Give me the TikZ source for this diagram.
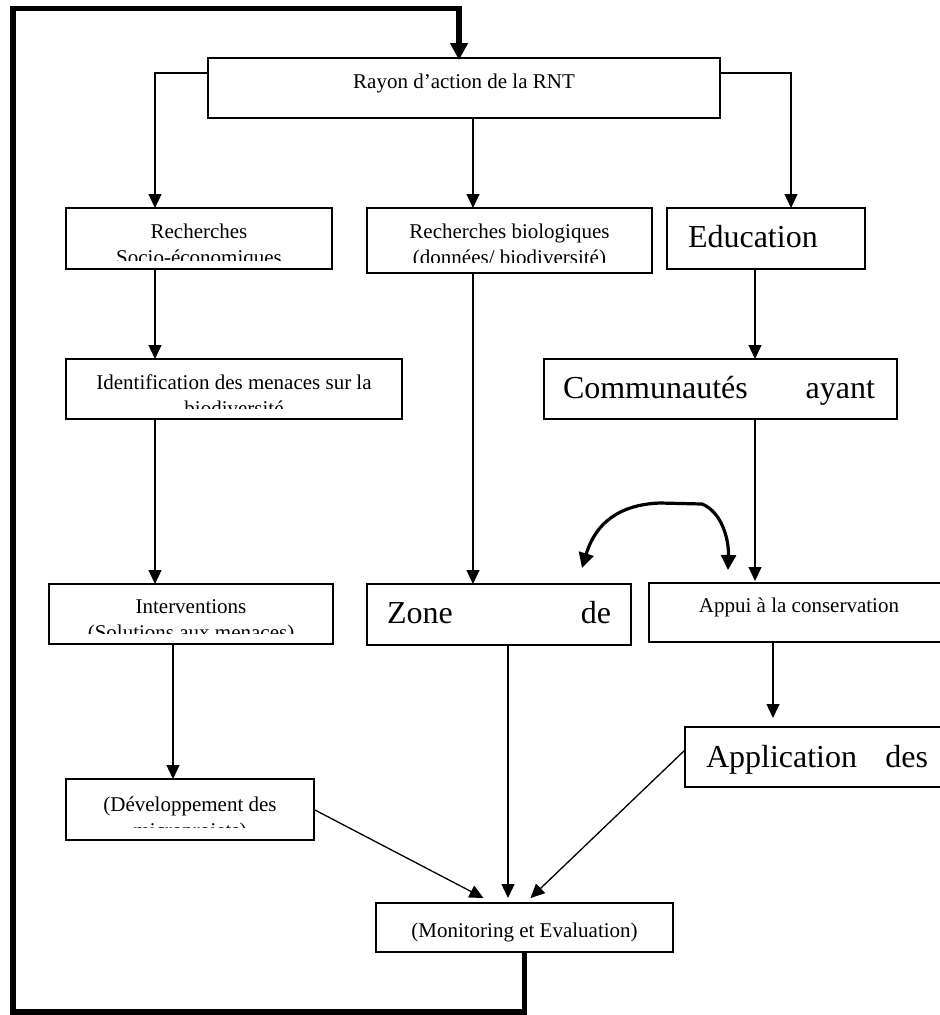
\documentclass[tikz,border=0pt]{standalone}
\usepackage{fontspec}
\setmainfont{Liberation Serif}
\usetikzlibrary{arrows.meta,calc}

\tikzset{
  cut/.style n args={3}{path picture={
    \clip ([yshift=#1]path picture bounding box.south west) rectangle (path picture bounding box.north east);
    \node[txt, anchor=north] at ([yshift=-#2]path picture bounding box.north) {\strut #3};}},
  wide/.style n args={3}{path picture={
    \node[big, anchor=north west] at ([xshift=#1, yshift=-#2]path picture bounding box.north west) {\strut #3};}}
}

\begin{document}
\begin{tikzpicture}[x=1pt, y=-1pt, ->, >={Triangle[length=14pt,width=13pt]}, line width=1.3pt]
  \tikzstyle{box}=[-, draw=black, line width=1.7pt, rectangle, anchor=north west, inner sep=0pt, outer sep=0pt]
  \tikzstyle{txt}=[inner sep=0pt, minimum width=0pt, minimum height=0pt, align=center, font=\fontsize{21}{26}\selectfont]
  \tikzstyle{big}=[inner sep=0pt, minimum width=0pt, minimum height=0pt, font=\fontsize{32}{37}\selectfont]
  \tikzstyle{back}=[line width=5.5pt, >={Triangle[length=17pt,width=17pt]}]
  \tikzstyle{twoway}=[<->, line width=3.2pt, >={Triangle[length=15pt,width=15pt]}]

  \useasboundingbox (0,0) rectangle (940,1015);
  \clip (0,0) rectangle (940,1015);

  \node[box, minimum width=512pt, minimum height=60pt, cut={0pt}{11.8pt}{Rayon d'action de la RNT}] (rayon) at (208,58) {};
  \node[box, minimum width=266pt, minimum height=61pt, cut={9pt}{11.8pt}{Recherches\\Socio-économiques}] (rech) at (66,208) {};
  \node[box, minimum width=285pt, minimum height=65pt, cut={11pt}{11.8pt}{Recherches biologiques\\(données/ biodiversité)}] (bio) at (367,208) {};
  \node[box, minimum width=198pt, minimum height=61pt, wide={21pt}{13.1pt}{Education}] (edu) at (667,208) {};
  \node[box, minimum width=336pt, minimum height=60pt, cut={11pt}{11.8pt}{Identification des menaces sur la\\biodiversité}] (ident) at (66,359) {};
  \node[box, minimum width=353pt, minimum height=60pt, wide={19pt}{13.1pt}{\makebox[312pt]{Communautés\hfill ayant}}] (comm) at (544,359) {};
  \node[box, minimum width=284pt, minimum height=60pt, cut={11pt}{10.8pt}{Interventions\\(Solutions aux menaces)}] (interv) at (49,584) {};
  \node[box, minimum width=264pt, minimum height=61pt, wide={20pt}{13.1pt}{\makebox[224pt]{Zone\hfill de}}] (zone) at (367,584) {};
  \node[box, minimum width=300pt, minimum height=59pt, cut={0pt}{10.8pt}{Appui à la conservation}] (appui) at (649,583) {};
  \node[box, minimum width=300pt, minimum height=60pt, wide={21pt}{14.1pt}{\makebox[222pt]{Application\hfill des}}] (app) at (685,727) {};
  \node[box, minimum width=248pt, minimum height=61pt, cut={13pt}{13.8pt}{(Développement des\\microprojets)}] (dev) at (66,779) {};
  \node[box, minimum width=297pt, minimum height=49pt, cut={0pt}{15.8pt}{(Monitoring et Evaluation)}] (mon) at (376,903) {};

  \coordinate (lft) at (155,73);
  \coordinate (rgt) at (791,73);
  \coordinate (mid) at (473,0);
  \coordinate (dcol) at (173,0);
  \coordinate (ecol) at (755,0);
  \coordinate (acol) at (773,0);
  \coordinate (zcol) at (508,0);
  \coordinate (lb) at (13,1012);
  \coordinate (lt) at (13,8.5);
  \coordinate (cl) at (582,568);
  \coordinate (cr) at (728,570);

  \draw (lft -| rayon.west) -| (rech.north -| lft);
  \draw (rgt -| rayon.east) -| (edu.north -| rgt);
  \path (rayon.south -| mid) edge (bio.north -| mid)
        (bio.south -| mid) edge (zone.north -| mid)
        (rech.south -| lft) edge (ident.north -| lft)
        (ident.south -| lft) edge (interv.north -| lft)
        (interv.south -| dcol) edge (dev.north -| dcol)
        (edu.south -| ecol) edge (comm.north -| ecol)
        (comm.south -| ecol) edge ($(appui.north -| ecol)+(0,-2)$)
        (appui.south -| acol) edge ($(app.north -| acol)+(0,-9)$)
        (dev.east) edge ($(mon.north)+(-41,-5)$)
        (zone.south -| zcol) edge ($(mon.north -| zcol)+(0,-5)$)
        ($(app.west)+(0,-7)$) edge ($(mon.north)+(6,-5)$);

  \draw[twoway] (cl) .. controls (598,515) and (630,504) .. (660,503) -- (702,504) .. controls (722,512) and (729,540) .. (cr);

  \draw[back] (mon.south) |- (lb) -- (lt) -| ($(rayon.north)+(-5,2)$);
\end{tikzpicture}
\end{document}
